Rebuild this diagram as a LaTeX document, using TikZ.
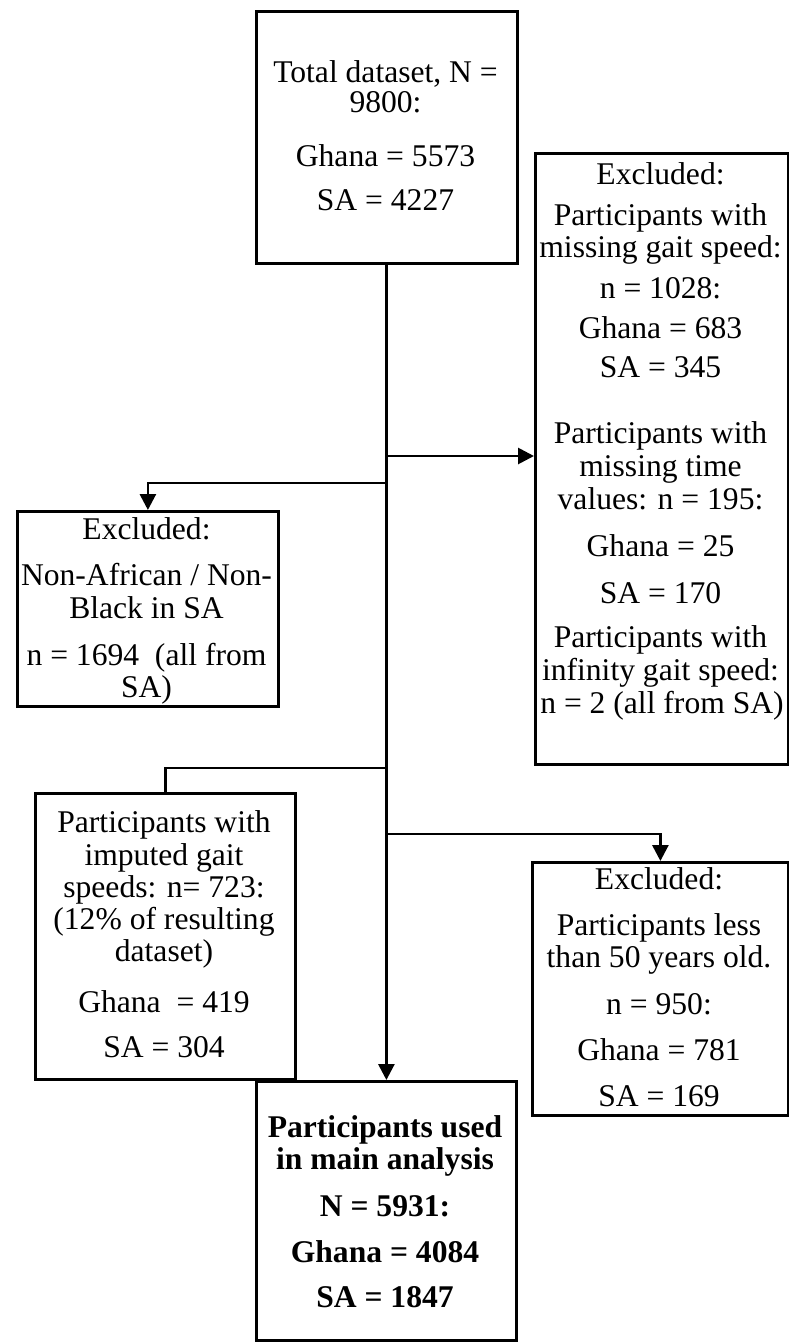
\documentclass[tikz,border=0pt]{standalone}
\usepackage{fontspec}
\setmainfont{Liberation Serif}
\usetikzlibrary{arrows.meta}
\begin{document}
\begin{tikzpicture}[x=1pt,y=1pt,
  box/.style={draw=black,line width=2.8pt,rectangle,inner sep=0pt,anchor=north west},
  txt/.style={anchor=base,inner sep=0pt,font=\fontsize{31.6}{36}\selectfont},
  btxt/.style={txt,font=\fontsize{31.6}{36}\selectfont\bfseries},
  conn/.style={line width=2.8pt},
  arr/.style={conn,-{Triangle[length=16pt,width=16pt]}}]
\useasboundingbox (0,0) rectangle (788,-1342);
\fill[white] (0,0) rectangle (788,-1342);
% boxes
\node[box,minimum width=261pt,minimum height=252pt] (top) at (255,-10) {};
\node[box,minimum width=253pt,minimum height=611pt] (rbox) at (534,-152) {};
\node[box,minimum width=261pt,minimum height=195pt] (ulbox) at (16,-510) {};
\node[box,minimum width=260pt,minimum height=286pt] (llbox) at (34,-792) {};
\node[box,minimum width=256pt,minimum height=253pt] (lrbox) at (531,-861) {};
\node[box,minimum width=260pt,minimum height=259pt] (final) at (255,-1080) {};
% top text
\node[txt] (t1) at (385.5,-82) {Total dataset, N =};
\node[txt] (t2) at (385.5,-112) {9800:};
\node[txt] (t3) at (385.5,-166) {Ghana = 5573};
\node[txt] (t4) at (385.5,-210) {SA = 4227};
% right box text
\node[txt] (r1) at (660.5,-184) {Excluded:};
\node[txt] (r2) at (660.5,-225) {Participants with};
\node[txt] (r3) at (660.5,-257) {missing gait speed:};
\node[txt] (r4) at (660.5,-298) {n = 1028:};
\node[txt] (r5) at (660.5,-338) {Ghana = 683};
\node[txt] (r6) at (660.5,-377) {SA = 345};
\node[txt] (r7) at (660.5,-443) {Participants with};
\node[txt] (r8) at (660.5,-476) {missing time};
\node[txt] (r9) at (660.5,-509) {values: n = 195:};
\node[txt] (r10) at (660.5,-556) {Ghana = 25};
\node[txt] (r11) at (660.5,-603) {SA = 170};
\node[txt] (r12) at (660.5,-647) {Participants with};
\node[txt] (r13) at (660.5,-680) {infinity gait speed:};
\node[txt] (r14) at (662,-713) {n = 2 (all from SA)};
% upper-left text
\node[txt] (u1) at (146.5,-539) {Excluded:};
\node[txt] (u2) at (146.5,-585) {Non-African / Non-};
\node[txt] (u3) at (146.5,-618) {Black in SA};
\node[txt] (u4) at (146.5,-665) {n = 1694\ \ (all from};
\node[txt] (u5) at (146.5,-697) {SA)};
% lower-left text
\node[txt] (l1) at (164,-832) {Participants with};
\node[txt] (l2) at (164,-865) {imputed gait};
\node[txt] (l3) at (164,-897) {speeds: n= 723:};
\node[txt] (l4) at (164,-929) {(12\% of resulting};
\node[txt] (l5) at (164,-961) {dataset)};
\node[txt] (l6) at (164,-1012) {Ghana\ \ = 419};
\node[txt] (l7) at (164,-1057) {SA = 304};
% lower-right text
\node[txt] (g1) at (659,-889) {Excluded:};
\node[txt] (g2) at (659,-935) {Participants less};
\node[txt] (g3) at (659,-967) {than 50 years old.};
\node[txt] (g4) at (659,-1014) {n = 950:};
\node[txt] (g5) at (659,-1060) {Ghana = 781};
\node[txt] (g6) at (659,-1106) {SA = 169};
% final text
\node[btxt] (f1) at (385,-1137) {Participants used};
\node[btxt] (f2) at (385,-1169) {in main analysis};
\node[btxt] (f3) at (385,-1216) {N = 5931:};
\node[btxt] (f4) at (385,-1262) {Ghana = 4084};
\node[btxt] (f5) at (385,-1307) {SA = 1847};
% junctions
\coordinate (j1) at (385,-456);
\coordinate (j2) at (385,-483);
\coordinate (j3) at (385,-768);
\coordinate (j4) at (385,-834);
% connectors
\draw[arr] (top.south -| final.north) -- (final.north);
\draw[arr] (j1) -- (j1 -| rbox.west);
\draw[arr] (j2) -| (ulbox.north);
\draw[conn] (j3) -| (llbox.north);
\draw[arr] (j4) -| (lrbox.north);
\end{tikzpicture}
\end{document}
